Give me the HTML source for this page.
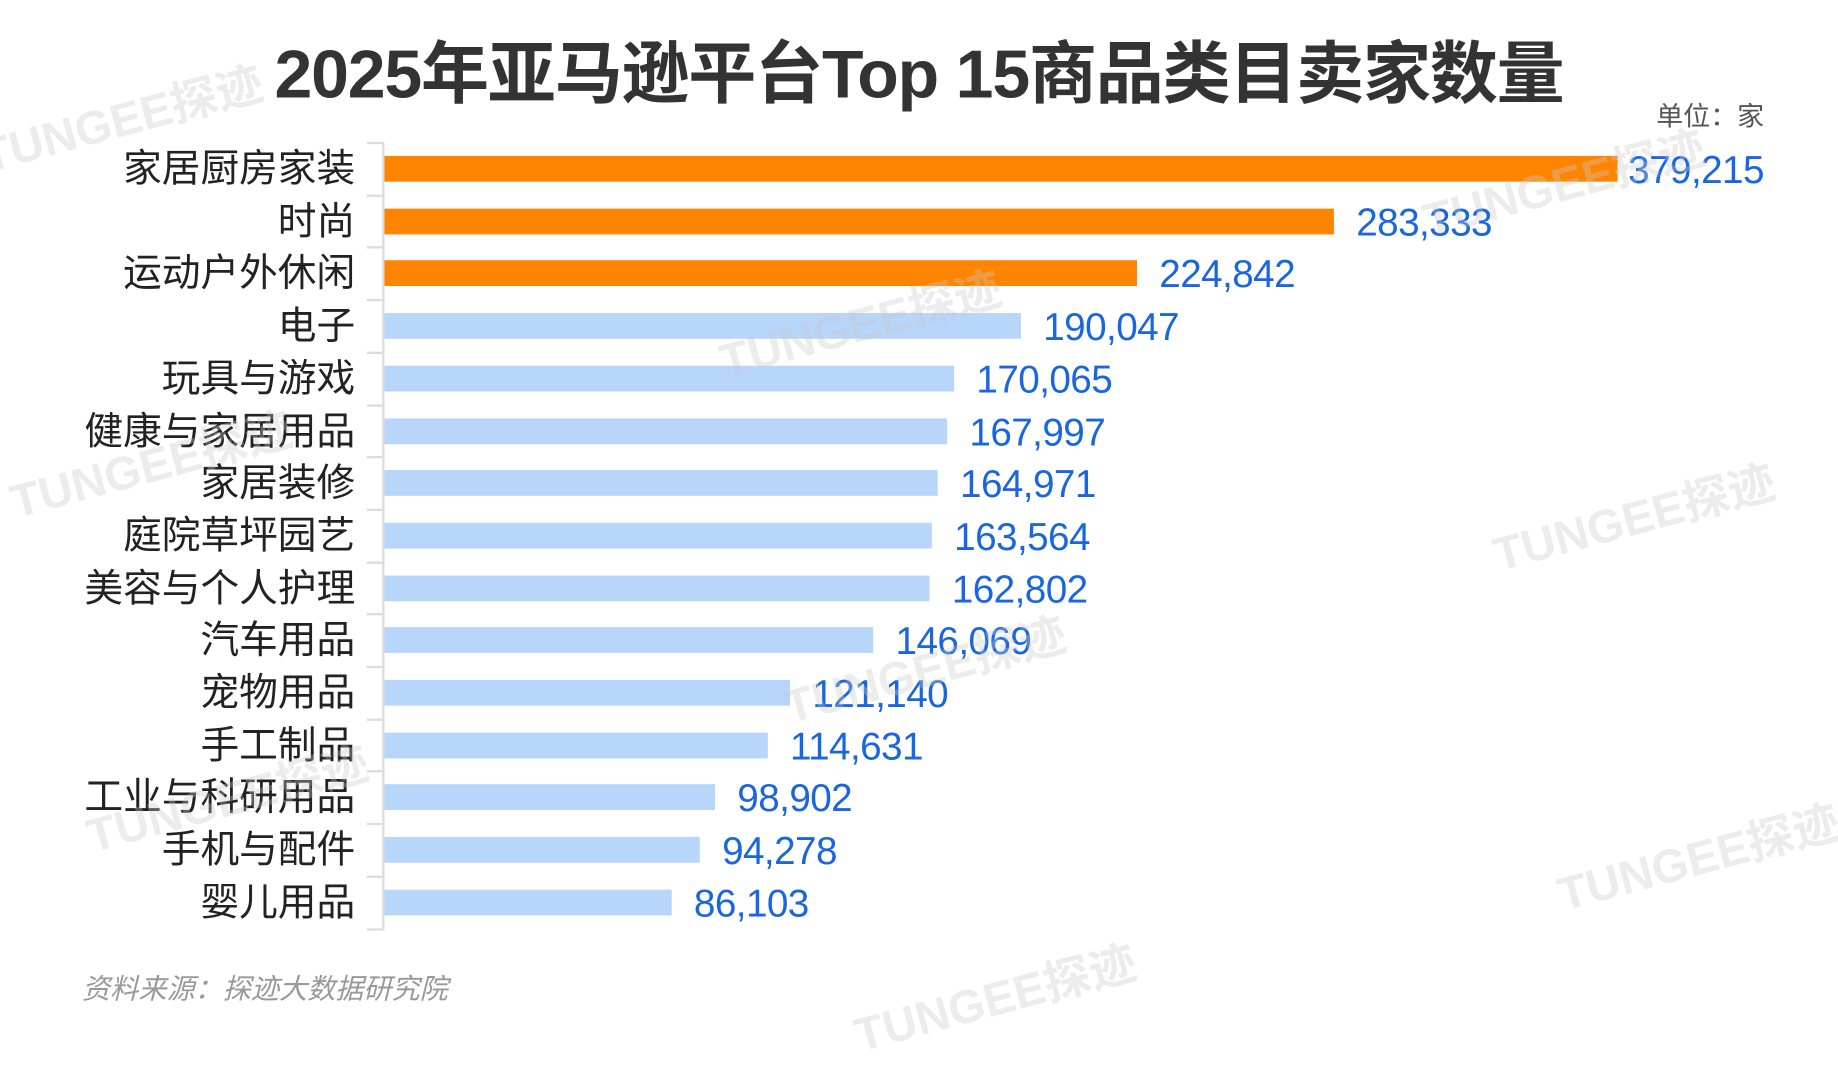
<!DOCTYPE html>
<html><head><meta charset="utf-8"><style>
html,body{margin:0;padding:0;background:#fff;overflow:hidden}
#c{position:absolute;left:0;top:0;width:1568px;height:877px;transform:scale(1.17219,1.17218);transform-origin:0 0;font-family:"Liberation Sans","Noto Sans CJK SC",sans-serif}
.t{position:absolute;white-space:nowrap}
.cat{position:absolute;right:1265px;font-size:33px;color:#222;line-height:33px;white-space:nowrap}
.bar{position:absolute;left:328px;height:22px}
.v{position:absolute;font-size:33px;color:#1a66e0;line-height:33px;letter-spacing:-0.5px}
.tick{position:absolute;left:313px;width:14px;height:2px;background:#ddd}
.wm{position:absolute;font-size:40px;font-weight:bold;color:rgba(200,200,200,0.35);transform:rotate(-15deg);white-space:nowrap;font-family:"Liberation Sans","Noto Sans CJK SC",sans-serif}
</style></head><body><div id="c">
<div class="t" style="left:0;width:1568px;text-align:center;top:16px;font-size:58px;font-weight:bold;color:#333;letter-spacing:-1px;font-family:'Liberation Sans','Noto Sans CJK SC',sans-serif">2025年亚马逊平台Top 15商品类目卖家数量</div>
<div class="t" style="right:63px;top:80px;font-size:23px;color:#555">单位：家</div>
<div style="position:absolute;left:326px;top:122px;width:2px;height:672px;background:#ddd"></div>
<div id="rows"></div>
<div class="t" style="left:70px;top:824px;font-size:24px;color:#999;font-style:italic">资料来源：探迹大数据研究院</div>
<div class="wm" style="left:-20px;top:70px">TUNGEE探迹</div>
<div class="wm" style="left:1210px;top:125px">TUNGEE探迹</div>
<div class="wm" style="left:610px;top:245px">TUNGEE探迹</div>
<div class="wm" style="left:5px;top:365px">TUNGEE探迹</div>
<div class="wm" style="left:1270px;top:410px">TUNGEE探迹</div>
<div class="wm" style="left:665px;top:540px">TUNGEE探迹</div>
<div class="wm" style="left:70px;top:650px">TUNGEE探迹</div>
<div class="wm" style="left:1325px;top:700px">TUNGEE探迹</div>
<div class="wm" style="left:725px;top:820px">TUNGEE探迹</div>
</div>
<script>
var d=[["家居厨房家装",379215,1380],["时尚",283333,1138],["运动户外休闲",224842,970],["电子",190047,871],["玩具与游戏",170065,814],["健康与家居用品",167997,808],["家居装修",164971,800],["庭院草坪园艺",163564,795],["美容与个人护理",162802,793],["汽车用品",146069,745],["宠物用品",121140,674],["手工制品",114631,655],["工业与科研用品",98902,610],["手机与配件",94278,597],["婴儿用品",86103,573]];
var h="";
for(var i=0;i<15;i++){var y=144+i*44.7,w=d[i][2]-328;
h+='<div class="cat" style="top:'+(y-17)+'px">'+d[i][0]+'</div>';
h+='<div class="bar" style="top:'+(y-11)+'px;width:'+w+'px;background:'+(i<3?'#ff8400':'#b8d5fa')+'"></div>';
h+='<div class="v" style="left:'+(d[i][2]+(i==0?9:19))+'px;top:'+(y-16)+'px">'+d[i][1].toLocaleString('en-US')+'</div>';
h+='<div class="tick" style="top:'+(y-23)+'px"></div>';}
h+='<div class="tick" style="top:'+(144+14.5*44.7)+'px"></div>';
document.getElementById('rows').innerHTML=h;
</script>
</body></html>
